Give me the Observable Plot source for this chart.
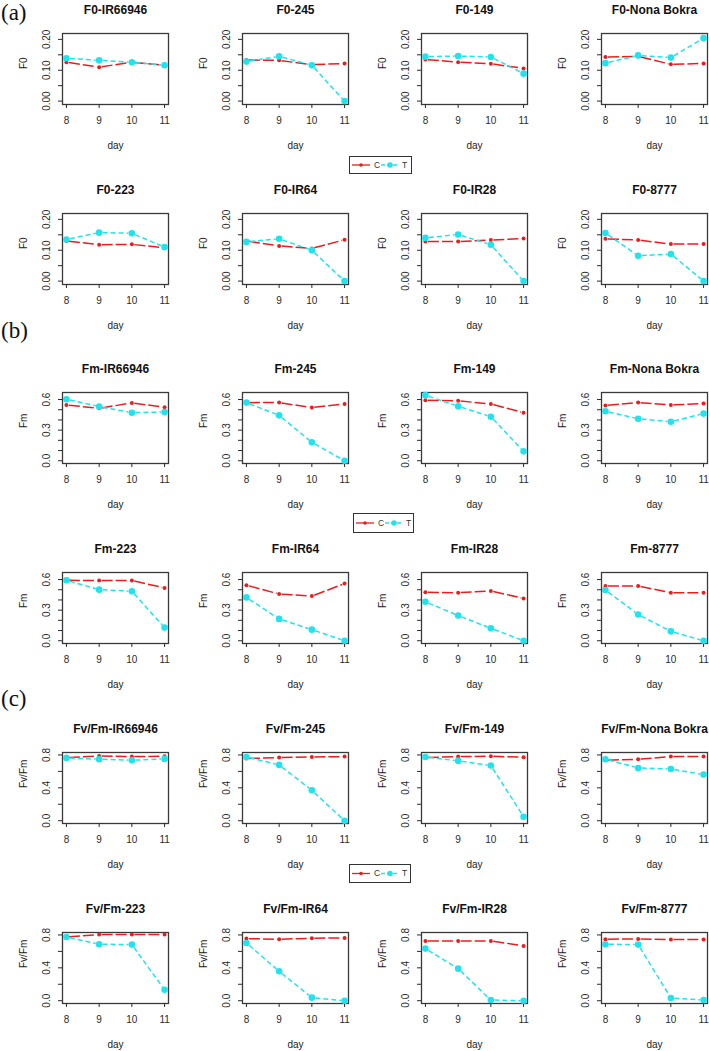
<!DOCTYPE html>
<html><head><meta charset="utf-8">
<script src="https://cdn.jsdelivr.net/npm/d3@7"></script>
<script src="https://cdn.jsdelivr.net/npm/@observablehq/plot@0.6"></script>
<style>
body{margin:0;background:#fff;}
#fig{position:relative;width:709px;height:1051px;overflow:hidden;background:#fff;font-family:"Liberation Sans",Arial,sans-serif;}
.panel{position:absolute;width:180px;height:180px;}
.panel svg{max-width:none !important;width:180px;height:180px;}
.lab{position:absolute;font-family:"Liberation Serif","Times New Roman",serif;font-size:23px;color:#111;line-height:1.1;}
.legend{position:absolute;border:1px solid #333;background:#fff;box-sizing:border-box;}
.legend svg{display:block;}
</style></head><body><div id="fig"></div>
<script>
// ---------- data ----------
const days = [8, 9, 10, 11];
const genotypes = ["IR66946", "245", "149", "Nona Bokra", "223", "IR64", "IR28", "8777"];
const params = ["F0", "Fm", "Fv/Fm"];
const treatments = ["C", "T"];
const panelLabels = ["(a)", "(b)", "(c)"];

// F0 (control / treatment), one array of 4 days per genotype
const F0_C = [
  [0.126, 0.110, 0.126, 0.116], [0.133, 0.132, 0.118, 0.122], [0.135, 0.126, 0.121, 0.106], [0.143, 0.145, 0.119, 0.122],
  [0.130, 0.118, 0.119, 0.108], [0.130, 0.114, 0.106, 0.134], [0.128, 0.128, 0.133, 0.138], [0.137, 0.133, 0.120, 0.120]
];
const F0_T = [
  [0.139, 0.132, 0.126, 0.116], [0.128, 0.145, 0.116, 0.000], [0.144, 0.146, 0.143, 0.089], [0.123, 0.148, 0.141, 0.204],
  [0.135, 0.157, 0.155, 0.110], [0.127, 0.137, 0.100, 0.000], [0.140, 0.151, 0.118, 0.000], [0.156, 0.082, 0.088, 0.000]
];
const Fm_C = [
  [0.547, 0.514, 0.567, 0.524], [0.570, 0.570, 0.521, 0.557], [0.593, 0.587, 0.557, 0.471], [0.541, 0.570, 0.547, 0.560],
  [0.593, 0.590, 0.590, 0.518], [0.544, 0.458, 0.438, 0.560], [0.475, 0.471, 0.488, 0.415], [0.537, 0.537, 0.471, 0.471]
];
const Fm_T = [
  [0.603, 0.531, 0.471, 0.478], [0.570, 0.445, 0.181, 0.000], [0.643, 0.534, 0.432, 0.092], [0.485, 0.412, 0.382, 0.462],
  [0.593, 0.501, 0.485, 0.129], [0.425, 0.214, 0.109, 0.000], [0.382, 0.247, 0.122, 0.000], [0.498, 0.257, 0.092, 0.000]
];
const FvFm_C = [
  [0.768, 0.788, 0.780, 0.784], [0.756, 0.768, 0.776, 0.780], [0.768, 0.780, 0.784, 0.772], [0.736, 0.748, 0.780, 0.780],
  [0.776, 0.805, 0.805, 0.805], [0.756, 0.748, 0.760, 0.764], [0.728, 0.728, 0.728, 0.667], [0.748, 0.752, 0.744, 0.744]
];
const FvFm_T = [
  [0.764, 0.748, 0.736, 0.752], [0.776, 0.679, 0.370, 0.000], [0.776, 0.728, 0.671, 0.049], [0.748, 0.642, 0.630, 0.561],
  [0.776, 0.687, 0.683, 0.134], [0.703, 0.358, 0.037, 0.000], [0.634, 0.390, 0.008, 0.000], [0.687, 0.683, 0.033, 0.008]
];

// axis ticks and tick labels per parameter
const F0_ticks = [0, 0.05, 0.10, 0.15, 0.20];
const F0_tickLabels = ["0.00", "", "0.10", "", "0.20"];
const Fm_ticks = [0, 0.1, 0.2, 0.3, 0.4, 0.5, 0.6];
const Fm_tickLabels = ["0.0", "", "", "0.3", "", "", "0.6"];
const FvFm_ticks = [0, 0.2, 0.4, 0.6, 0.8];
const FvFm_tickLabels = ["0.0", "", "0.4", "", "0.8"];

// ---------- styling / layout ----------
const RED = "#ec1c1c", CYAN = "#20e3ee";
const FONT = "'Liberation Sans', Arial, Helvetica, sans-serif";
const series = [
  {C: F0_C, T: F0_T, ticks: F0_ticks, labels: F0_tickLabels, domain: [-0.011, 0.219]},
  {C: Fm_C, T: Fm_T, ticks: Fm_ticks, labels: Fm_tickLabels, domain: [-0.027, 0.669]},
  {C: FvFm_C, T: FvFm_T, ticks: FvFm_ticks, labels: FvFm_tickLabels, domain: [-0.034, 0.830]}
];
const COLW = 179.5, ROWH = 179.7;

const fig = document.getElementById("fig");

function segs(vals) {
  return days.slice(0, -1).map((d, i) => ({x1: d, y1: vals[i], x2: days[i + 1], y2: vals[i + 1]}));
}
function pts(vals) {
  return days.map((d, i) => ({x: d, y: vals[i]}));
}

params.forEach((param, p) => {
  const s = series[p];
  const lab = new Map(s.ticks.map((t, i) => [t, s.labels[i]]));
  genotypes.forEach((g, gi) => {
    const row = p * 2 + Math.floor(gi / 4), col = gi % 4;
    const cv = s.C[gi], tv = s.T[gi];
    const chart = Plot.plot({
      width: 180, height: 180,
      marginLeft: 62, marginRight: 12, marginTop: 33, marginBottom: 76,
      style: {fontFamily: FONT, fontSize: "10px", background: "transparent", overflow: "visible"},
      x: {domain: [7.88, 11.12]},
      y: {domain: s.domain},
      marks: [
        Plot.frame({stroke: "#3a3a3a", strokeWidth: 1.3}),
        Plot.axisX({ticks: days, tickSize: 4, tickPadding: 8, color: "#2a2a2a", fontSize: 10, tickFormat: d => String(d)}),
        Plot.axisY({ticks: s.ticks, tickSize: 4, tickPadding: 9, tickRotate: -90, color: "#2a2a2a", fontSize: 10,
          tickFormat: d => lab.get(d)}),
        Plot.text([param + "-" + g], {text: d => d, frameAnchor: "top", dy: -23, lineAnchor: "middle",
          fontWeight: "bold", fontSize: 12, fill: "#111"}),
        Plot.text(["day"], {text: d => d, frameAnchor: "bottom", dy: 41, lineAnchor: "middle", fontSize: 10, fill: "#222"}),
        Plot.text([param], {text: d => d, frameAnchor: "left", dx: -39, rotate: -90, lineAnchor: "middle", fontSize: 10, fill: "#222"}),
        Plot.arrow(segs(cv), {x1: "x1", y1: "y1", x2: "x2", y2: "y2", headLength: 0, insetStart: 2.5, insetEnd: 2.5,
          stroke: RED, strokeWidth: 1.5, strokeDasharray: "11,3", strokeLinecap: "butt"}),
        Plot.arrow(segs(tv), {x1: "x1", y1: "y1", x2: "x2", y2: "y2", headLength: 0, insetStart: 3.5, insetEnd: 3.5,
          stroke: CYAN, strokeWidth: 1.5, strokeDasharray: "5,3", strokeLinecap: "butt"}),
        Plot.dot(pts(cv), {x: "x", y: "y", r: 2, fill: RED}),
        Plot.dot(pts(tv), {x: "x", y: "y", r: 3.3, fill: CYAN})
      ]
    });
    const div = document.createElement("div");
    div.className = "panel";
    div.style.left = (col * COLW) + "px";
    div.style.top = (row * ROWH) + "px";
    div.appendChild(chart);
    fig.appendChild(div);
  });
});

// legends (one per block)
const legendBoxes = [[349, 156, 63, 18], [353, 513, 61, 20], [349, 864, 62, 19]];
legendBoxes.forEach(([l, t, w, h]) => {
  const d = document.createElement("div");
  d.className = "legend";
  d.style.left = l + "px"; d.style.top = t + "px"; d.style.width = w + "px"; d.style.height = h + "px";
  const cy = (h - 2) / 2;
  d.innerHTML = `<svg width="${w - 2}" height="${h - 2}" font-family="${FONT}" font-size="8.5">
    <line x1="2" x2="20" y1="${cy}" y2="${cy}" stroke="${RED}" stroke-width="1.3"/>
    <circle cx="11" cy="${cy}" r="1.8" fill="${RED}"/>
    <text x="24" y="${cy}" dy="0.35em" fill="#333">${treatments[0]}</text>
    <line x1="31" x2="49" y1="${cy}" y2="${cy}" stroke="${CYAN}" stroke-width="1.3" stroke-dasharray="4,2"/>
    <circle cx="40" cy="${cy}" r="2.8" fill="${CYAN}"/>
    <text x="52" y="${cy}" dy="0.35em" fill="#333">${treatments[1]}</text>
  </svg>`;
  fig.appendChild(d);
});

// block labels
const labelTops = [0, 318, 686];
panelLabels.forEach((t, i) => {
  const d = document.createElement("div");
  d.className = "lab";
  d.style.left = "1px"; d.style.top = labelTops[i] + "px";
  d.textContent = t;
  fig.appendChild(d);
});
</script></body></html>
